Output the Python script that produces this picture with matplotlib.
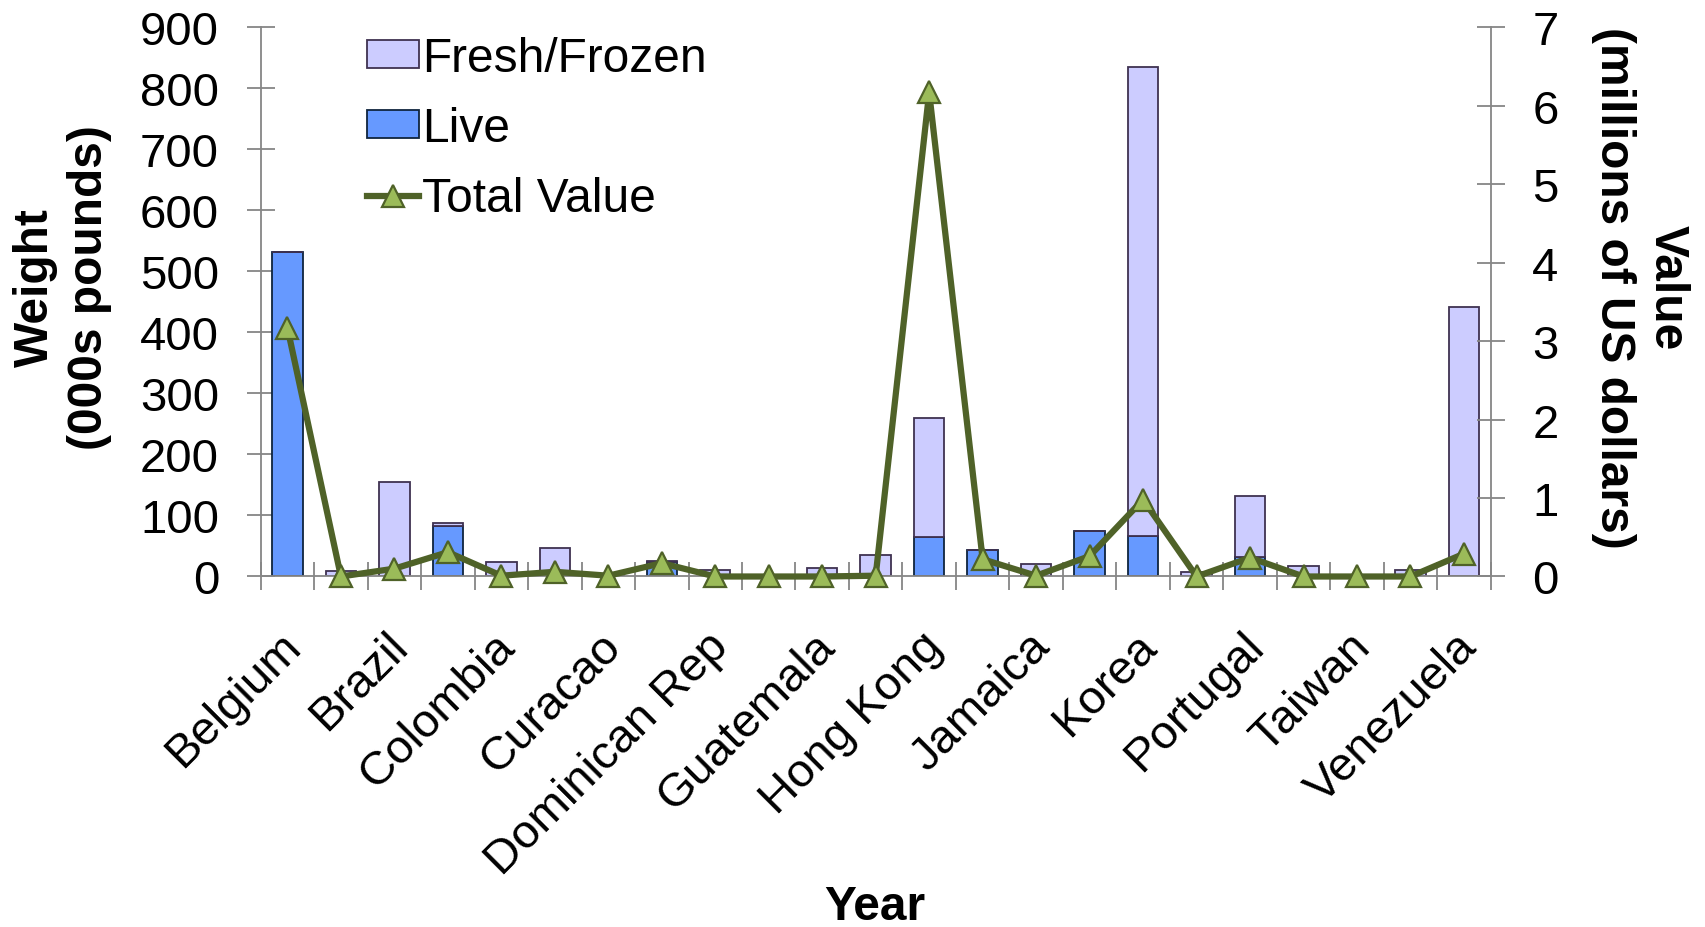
import matplotlib
matplotlib.use("Agg")
import matplotlib.pyplot as plt
from matplotlib.transforms import ScaledTranslation

plt.rcParams["font.family"] = ["Liberation Sans", "DejaVu Sans"]

# 23 destinations; only every other one is labelled on the axis
countries = ["Belgium", "", "Brazil", "", "Colombia", "", "Curacao", "",
             "Dominican Rep", "", "Guatemala", "", "Hong Kong", "", "Jamaica", "",
             "Korea", "", "Portugal", "", "Taiwan", "", "Venezuela"]
live = [531, 0, 0, 83, 0, 0, 0, 24, 0, 0, 0, 0, 65, 44, 0, 74, 67, 0, 32, 0, 0, 0, 0]
fresh = [0, 9, 155, 4, 23, 46, 3, 2, 11, 0, 14, 36, 194, 0, 20, 0, 768, 7, 100, 17, 0, 10, 442]
total_value = [3.17, 0.0, 0.1, 0.31, 0.01, 0.06, 0.01, 0.17, 0.0, 0.0, 0.0, 0.01,
               6.17, 0.22, 0.01, 0.26, 0.98, 0.0, 0.24, 0.0, 0.0, 0.0, 0.29]

FS = 34.5    # labels / legend
TFS = 34     # tick labels
GRAY = "#868686"

fig = plt.figure(figsize=(17.05, 9.28), dpi=100)
ax = fig.add_axes([0.1529, 0.3777, 0.8743 - 0.1529, 0.9695 - 0.3777])
x = list(range(len(countries)))

b_live = ax.bar(x, live, width=0.57, color="#6699FF", edgecolor="#0F243E",
                linewidth=1.3, label="Live", zorder=2)
b_fresh = ax.bar(x, fresh, width=0.57, bottom=live, color="#CCCCFF",
                 edgecolor="#3F3151", linewidth=1.3, label="Fresh/Frozen", zorder=2)

ax.set_xlim(-0.5, len(countries) - 0.5)
ax.set_ylim(0, 900)
ax.set_yticks(range(0, 901, 100))
ax.set_xticks(x)
ax.set_xticklabels(countries, rotation=45, ha="right", va="top",
                   rotation_mode="anchor", fontsize=TFS)
ax.set_xticks([i - 0.5 for i in range(len(countries) + 1)], minor=True)
ax.tick_params(axis="x", which="major", length=0, pad=34)
ax.tick_params(axis="x", which="minor", direction="inout", length=20,
               width=1.3, color=GRAY)
ax.tick_params(axis="y", direction="inout", length=20, width=1.3, color=GRAY,
               labelsize=TFS, pad=20)
for lbl in ax.get_xticklabels():
    lbl.set_transform(lbl.get_transform() + ScaledTranslation(-6.5 / 72, 0, fig.dpi_scale_trans))
for s in ["top", "right"]:
    ax.spines[s].set_visible(False)
for s in ["left", "bottom"]:
    ax.spines[s].set_color(GRAY)
    ax.spines[s].set_linewidth(1.3)

ax.set_ylabel("Weight\n(000s pounds)", fontsize=FS, fontweight="bold",
              linespacing=1.25, va="center", ha="center")
ax.yaxis.set_label_coords(-0.161, 0.528)
fig.text(875 / 1705, 8 / 928, "Year", fontsize=FS, fontweight="bold",
         ha="center", va="baseline")

ax2 = ax.twinx()
line, = ax2.plot(x, total_value, color="#4F6228", linewidth=4.5, marker="^",
                 markersize=16, markerfacecolor="#9BBB59", markeredgecolor="#4F6228",
                 markeredgewidth=1.6, label="Total Value", zorder=3, clip_on=False)
ax2.set_ylim(0, 7)
ax2.set_yticks(range(0, 8))
ax2.tick_params(axis="y", direction="inout", length=20, width=1.3, color=GRAY,
                labelsize=TFS, pad=20)
for s in ["top", "left", "bottom"]:
    ax2.spines[s].set_visible(False)
ax2.spines["right"].set_color(GRAY)
ax2.spines["right"].set_linewidth(1.3)
ax2.set_ylabel("Value\n(millions of US dollars)", fontsize=FS, fontweight="bold",
               rotation=270, linespacing=1.25, va="center", ha="center")
ax2.yaxis.set_label_coords(1.122, 0.528)

fig.legend([b_fresh, b_live, line], ["Fresh/Frozen", "Live", "Total Value"],
           loc="upper left", bbox_to_anchor=(366.7 / 1705, 1 - 37 / 928),
           frameon=False, fontsize=FS, handlelength=1.1, handleheight=0.5,
           handletextpad=0.05, labelspacing=0.52, borderpad=0, borderaxespad=0,
           numpoints=1)

fig.savefig("out.png", dpi=100)
